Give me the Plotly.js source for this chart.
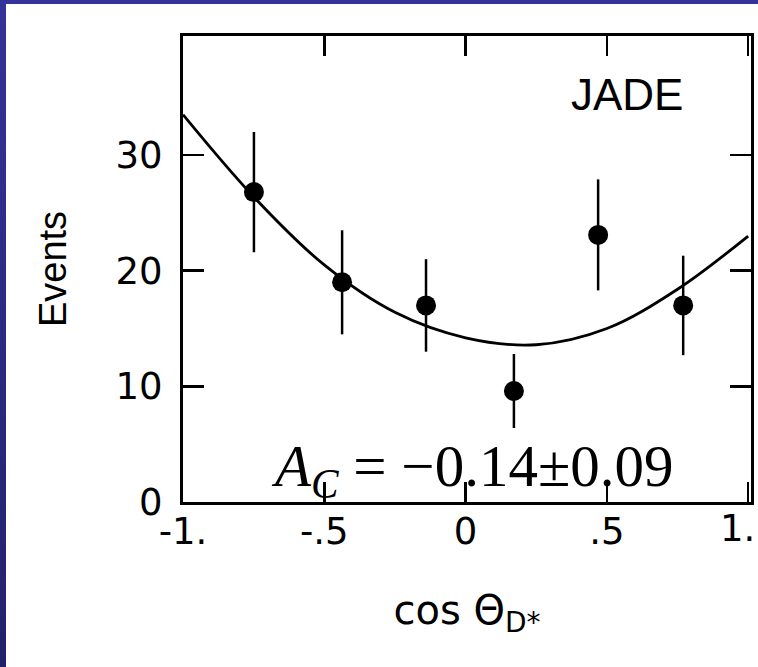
<!DOCTYPE html>
<html>
<head>
<meta charset="utf-8">
<script src="https://cdn.plot.ly/plotly-3.0.1.min.js"></script>
<style>
  html, body { margin: 0; padding: 0; width: 758px; height: 667px; overflow: hidden;
    background: linear-gradient(to bottom, #333399 0%, #22226b 100%); }
  #chart { position: absolute; left: 6px; top: 4px; width: 752px; height: 663px; }
</style>
</head>
<body>
<div id="chart"></div>
<script>
// Data points (cos theta_D*, events, error)
const cosTheta = [-0.749, -0.437, -0.14, 0.171, 0.469, 0.77];
const events   = [26.8, 19.0, 17.0, 9.6, 23.1, 17.0];
const errors   = [5.2, 4.5, 4.0, 3.2, 4.8, 4.3];

// Fit curve
const fitX = [-1.0, -0.75, -0.5, -0.25, 0.0, 0.25, 0.5, 0.75, 1.0];
const fitY = [33.5, 26.4, 20.5, 16.4, 14.2, 13.6, 15.0, 18.4, 23.0];

// Tick labels
const xTickVals = [-1, -0.5, 0, 0.5, 1];
const xTickText = ["-1.", "-.5", "0", ".5", "1."];
const yTickVals = [0, 10, 20, 30];
const yTickText = ["0", "10", "20", "30"];

const sans = "Liberation Sans, Arial, sans-serif";
const wide = "DejaVu Sans, sans-serif";

// the last x label sits at the page edge: draw it right-aligned so it is not cut
const lastIdx = xTickText.length - 1;
const axisTickText = xTickText.map((t, i) => (i === lastIdx ? "" : t));

const traces = [
  {
    x: fitX, y: fitY, type: "scatter", mode: "lines",
    line: { color: "#000", width: 2.8, shape: "spline", smoothing: 1.0 },
    hoverinfo: "skip", showlegend: false
  },
  {
    x: cosTheta, y: events, type: "scatter", mode: "markers",
    marker: { color: "#000", size: 20 },
    error_y: { type: "data", array: errors, visible: true, color: "#000", thickness: 2.5, width: 0 },
    showlegend: false
  }
];

const layout = {
  width: 752, height: 663,
  margin: { l: 177, r: 7, t: 32, b: 165 },
  paper_bgcolor: "#ffffff",
  plot_bgcolor: "#ffffff",
  showlegend: false,
  xaxis: {
    range: [-1, 1.01],
    tickvals: xTickVals, ticktext: axisTickText,
    ticks: "inside", ticklen: 20, tickwidth: 2.5, tickcolor: "#000",
    showline: true, linewidth: 3, linecolor: "#000", mirror: "ticks",
    showgrid: false, zeroline: false,
    ticklabelstandoff: -5,
    tickfont: { family: wide, size: 37, color: "#000" },
    title: { text: "cos Θ<sub>D*</sub>", font: { family: wide, size: 40, color: "#000" }, standoff: 44 }
  },
  yaxis: {
    range: [0, 40.3],
    tickvals: yTickVals, ticktext: yTickText,
    ticks: "inside", ticklen: 21, tickwidth: 2.5, tickcolor: "#000",
    showline: true, linewidth: 3, linecolor: "#000", mirror: "ticks",
    showgrid: false, zeroline: false,
    ticklabelstandoff: 10,
    tickfont: { family: wide, size: 37, color: "#000" },
    title: { text: "Events", font: { family: sans, size: 38, color: "#000" }, standoff: 38 }
  },
  annotations: [
    {
      x: 1, y: 0, xref: "paper", yref: "paper", text: xTickText[lastIdx],
      showarrow: false, xanchor: "right", yanchor: "top", xshift: 6, yshift: -3,
      font: { family: wide, size: 37, color: "#000" }
    },
    {
      x: 0.571, y: 35.2, xref: "x", yref: "y", text: "JADE", showarrow: false,
      xanchor: "center", yanchor: "middle",
      font: { family: sans, size: 44, color: "#000" }
    },
    {
      x: 0.023, y: 2.75, xref: "x", yref: "y",
      text: "<i>A</i><sub><i>C</i></sub> = −0.14±0.09", showarrow: false,
      xanchor: "center", yanchor: "middle",
      font: { family: "Liberation Serif, Times New Roman, serif", size: 59, color: "#000" }
    }
  ]
};

Plotly.newPlot("chart", traces, layout, { displayModeBar: false, staticPlot: true });
</script>
</body>
</html>
